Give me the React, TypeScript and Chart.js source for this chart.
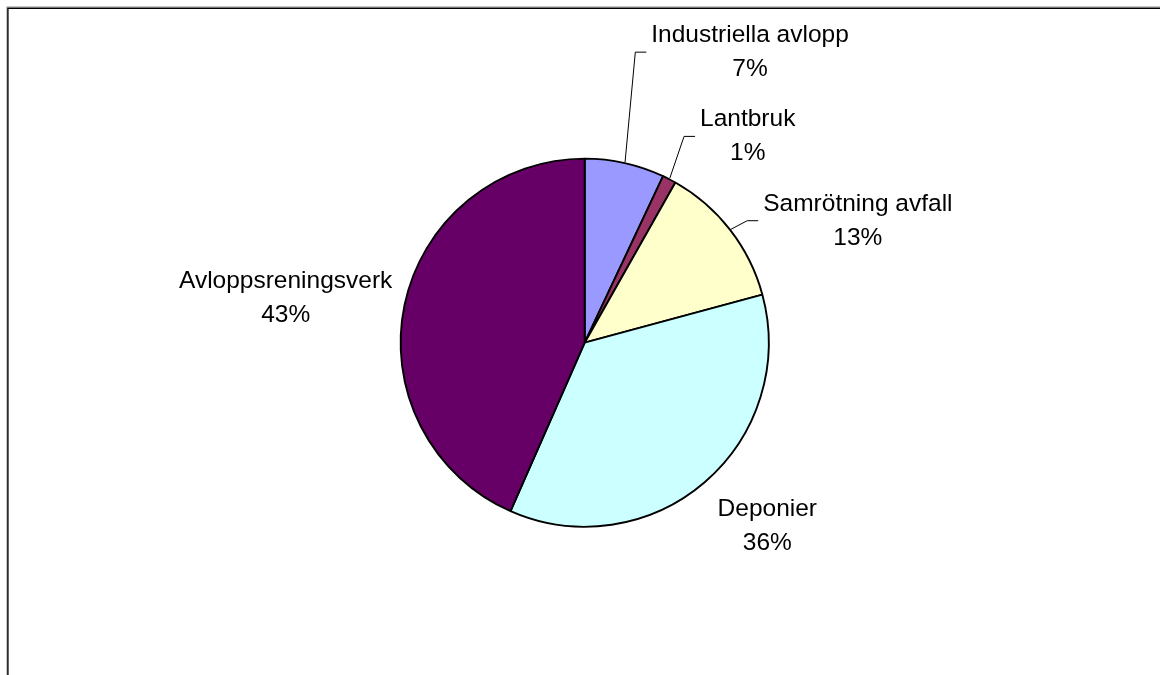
import React, { useEffect, useRef } from "react";
import { Chart, registerables } from "chart.js";

Chart.register(...registerables);

const categories = [
  "Industriella avlopp",
  "Lantbruk",
  "Samrötning avfall",
  "Deponier",
  "Avloppsreningsverk",
];
const shares = [7.0, 1.2, 12.6, 35.8, 43.4];
const sliceColors = ["#9999FF", "#993366", "#FFFFCC", "#CCFFFF", "#660066"];

// label layout: offset of text centre / first baseline from the slice's outer mid point
const labelOffsets = [
  { dx: 125, dy: -120, leader: true },
  { dx: 78, dy: -52, leader: true },
  { dx: 127, dy: -18.6, leader: true },
  { dx: 62, dy: 33, leader: false },
  { dx: -118, dy: -17, leader: false },
];

const FONT = '24.5px "Liberation Sans", Arial, sans-serif';
const LINE_GAP = 34;
const BORDER = 1.9;

const labelPlugin = {
  id: "excelLabels",
  beforeDraw(chart: any) {
    const ctx = chart.ctx;
    ctx.save();
    ctx.fillStyle = "#ffffff";
    ctx.fillRect(0, 0, chart.width, chart.height);
    ctx.strokeStyle = "#b0b0b0";
    ctx.lineWidth = 1;
    ctx.beginPath();
    ctx.moveTo(6.8, chart.height);
    ctx.lineTo(6.8, 6.8);
    ctx.lineTo(chart.width, 6.8);
    ctx.stroke();
    ctx.strokeStyle = "#000000";
    ctx.lineWidth = 1.4;
    ctx.beginPath();
    ctx.moveTo(7.9, chart.height);
    ctx.lineTo(7.9, 8.3);
    ctx.lineTo(chart.width, 8.3);
    ctx.stroke();
    ctx.restore();
  },
  afterDatasetsDraw(chart: any) {
    const ctx = chart.ctx;
    const meta = chart.getDatasetMeta(0);
    const data = chart.data.datasets[0].data as number[];
    const total = data.reduce((a, b) => a + b, 0);
    ctx.save();
    ctx.font = FONT;
    ctx.fillStyle = "#000000";
    ctx.textBaseline = "alphabetic";
    ctx.textAlign = "center";
    meta.data.forEach((arc: any, i: number) => {
      const p = arc.getProps(["x", "y", "startAngle", "endAngle", "outerRadius"], true);
      const mid = (p.startAngle + p.endAngle) / 2;
      const r = p.outerRadius + BORDER / 2;
      const ex = p.x + Math.cos(mid) * r;
      const ey = p.y + Math.sin(mid) * r;
      const off = labelOffsets[i];
      const cx = ex + off.dx;
      const y1 = ey + off.dy;
      const l1 = categories[i];
      const l2 = Math.round((data[i] / total) * 100) + "%";
      ctx.fillText(l1, cx, y1);
      ctx.fillText(l2, cx, y1 + LINE_GAP);
      if (off.leader) {
        const w = Math.max(ctx.measureText(l1).width, ctx.measureText(l2).width);
        const endX = cx - w / 2 - 5;
        const elbowX = endX - 11;
        const ly = y1 + 10;
        ctx.save();
        ctx.strokeStyle = "#000000";
        ctx.lineWidth = 1;
        ctx.beginPath();
        ctx.moveTo(ex, ey);
        ctx.lineTo(elbowX, ly);
        ctx.lineTo(endX, ly);
        ctx.stroke();
        ctx.restore();
      }
    });
    ctx.restore();
  },
};

export default function App() {
  const ref = useRef<HTMLCanvasElement | null>(null);
  useEffect(() => {
    if (!ref.current) return;
    const chart = new Chart(ref.current, {
      type: "pie",
      data: {
        labels: categories,
        datasets: [
          {
            data: shares,
            backgroundColor: sliceColors,
            borderColor: "#000000",
            borderWidth: BORDER,
            hoverOffset: 0,
          },
        ],
      },
      options: {
        responsive: false,
        animation: false,
        devicePixelRatio: 1,
        layout: {
          padding: { left: 399.7, right: 390.3, top: 157.7, bottom: 147.3 },
        },
        plugins: {
          legend: { display: false },
          tooltip: { enabled: false },
        },
        events: [],
      },
      plugins: [labelPlugin],
    });
    return () => chart.destroy();
  }, []);
  return (
    <canvas
      ref={ref}
      width={1160}
      height={675}
      style={{ position: "fixed", left: 0, top: 0, width: 1160, height: 675, display: "block" }}
    />
  );
}
